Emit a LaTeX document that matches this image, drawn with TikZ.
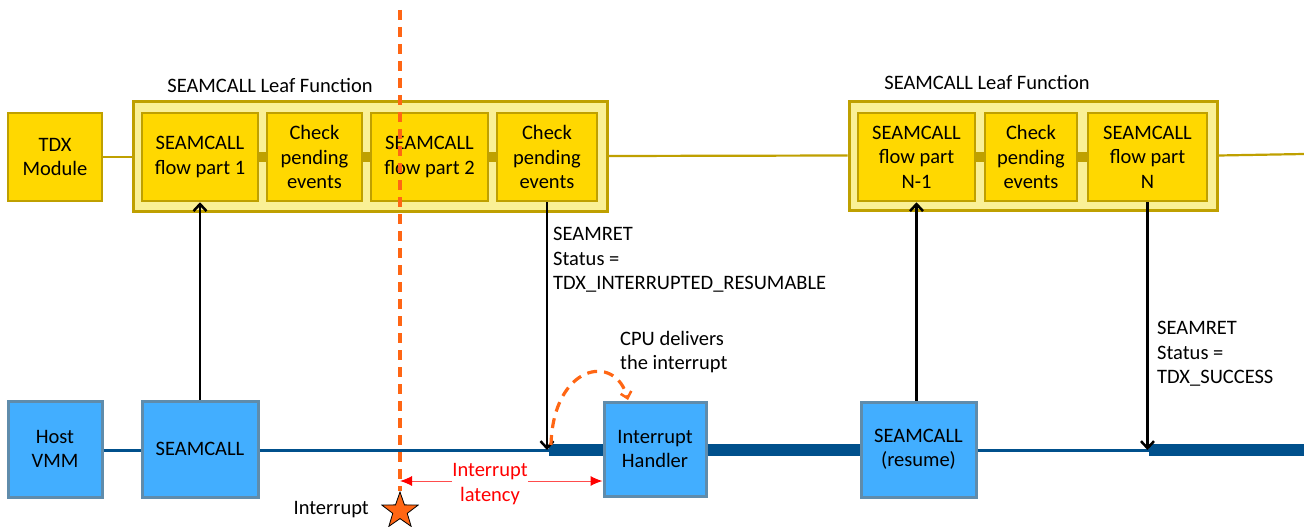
\documentclass[tikz,border=0pt]{standalone}
\usepackage{fontspec}
\setmainfont{Carlito}
\usetikzlibrary{arrows.meta,shapes.geometric}
\definecolor{goldfill}{RGB}{255,216,0}
\definecolor{goldedge}{RGB}{191,160,0}
\definecolor{leaffill}{RGB}{250,240,150}
\definecolor{bluefill}{RGB}{66,174,255}
\definecolor{blueedge}{RGB}{95,140,172}
\definecolor{darkblue}{RGB}{0,80,140}
\definecolor{intorange}{RGB}{255,102,20}
\definecolor{latred}{RGB}{255,0,0}
\tikzset{
  every node/.style={font=\fontsize{20.5}{24.5}\selectfont, inner sep=0pt},
  gbox/.style={draw=goldedge, fill=goldfill, line width=2.5pt, align=center, minimum height=88pt},
  leafbox/.style={draw=goldedge, fill=leaffill, line width=3pt},
  bbox/.style={draw=blueedge, fill=bluefill, line width=3pt, align=center},
  gline/.style={draw=goldedge, line width=2.2pt},
  gbar/.style={draw=goldedge, line width=10pt},
  bthin/.style={draw=darkblue, line width=3pt},
  bthick/.style={draw=darkblue, line width=12pt},
  blarrow/.style={draw=black, line width=2.7pt, -{Straight Barb[length=7pt,width=13pt,line width=2.5pt]}},
  odash/.style={draw=intorange, line width=3.2pt, dash pattern=on 10pt off 7pt},
  redarrow/.style={draw=latred!70, line width=1pt, -{Latex[length=12pt,width=10pt,color=latred]}},
  lbl/.style={align=left, anchor=north west},
}
\begin{document}
\begin{tikzpicture}[x=1pt,y=-1pt]
\path[use as bounding box] (0,0) rectangle (1304,527);

% ---- top row ----
\node[gbox, minimum width=94pt] (tdx) at (55,157) {\raisebox{-3pt}{\parbox{90pt}{\centering TDX\\Module}}};
\node[leafbox, minimum width=474pt, minimum height=110pt] (leaf1) at (370,156) {};
\node (t1) at (270,85) {SEAMCALL Leaf Function};
\node[gbox, minimum width=116pt] (a1) at (200,157) {\raisebox{-3pt}{\parbox{110pt}{\centering SEAMCALL\\flow part 1}}};
\node[gbox, minimum width=95pt] (a2) at (314.5,157) {Check\\pending\\events};
\node[gbox, minimum width=117pt] (a3) at (429.5,157) {\raisebox{-3pt}{\parbox{110pt}{\centering SEAMCALL\\flow part 2}}};
\node[gbox, minimum width=100pt] (a4) at (547,157) {Check\\pending\\events};

\node[leafbox, minimum width=368pt, minimum height=109pt] (leaf2) at (1033,155.5) {};
\node (t2) at (987,82) {SEAMCALL Leaf Function};
\node[gbox, minimum width=117pt] (b1) at (916.5,157) {SEAMCALL\\flow part\\N-1};
\node[gbox, minimum width=92pt] (b2) at (1031,157) {Check\\pending\\events};
\node[gbox, minimum width=119pt] (b3) at (1147.5,157) {SEAMCALL\\flow part\\N};

\coordinate (gend) at (1304,154);
\draw[gline] (tdx.east) -- (tdx.east -| leaf1.west);
\draw[gline] (leaf1.east) -- (leaf2.west);
\draw[gline] (leaf2.east) -- (gend);
\draw[gbar] (a1.east) -- (a2.west);
\draw[gbar] (a2.east) -- (a3.west);
\draw[gbar] (a3.east) -- (a4.west);
\draw[gbar] (b1.east) -- (b2.west);
\draw[gbar] (b2.east) -- (b3.west);

% ---- bottom row ----
\node[bbox, minimum width=94pt, minimum height=96pt] (host) at (55,449) {Host\\VMM};
\node[bbox, minimum width=116pt, minimum height=96pt] (sc) at (200,449) {SEAMCALL};
\node[bbox, minimum width=102pt, minimum height=94pt] (ih) at (655,449) {Interrupt\\Handler};
\node[bbox, minimum width=115pt, minimum height=95pt] (scr) at (918.5,449.5) {SEAMCALL\\(resume)};

\coordinate (ret1) at (549,450);
\coordinate (ret2) at (1149,450);
\coordinate (bend) at (1304,450);
\draw[bthin] (host.east |- 0,450) -- (sc.west |- 0,450);
\draw[bthin] (sc.east |- ret1) -- (ret1);
\draw[bthick] (ret1) -- (ret1 -| ih.west);
\draw[bthick] (ret1 -| ih.east) -- (ret1 -| scr.west);
\draw[bthin] (ret1 -| scr.east) -- (ret2);
\draw[bthick] (ret2) -- (bend);

% ---- vertical arrows ----
\draw[blarrow] (sc.north) -- (sc.north |- a1.south);
\draw[blarrow] (a4.south) -- (a4.south |- ret1);
\draw[blarrow] (scr.north -| b1.south) -- (b1.south);
\draw[blarrow] (b3.south) -- (b3.south |- ret2);

\node[lbl] (r1) at (553,227) {SEAMRET\\Status =\\TDX\_INTERRUPTED\_RESUMABLE};
\node[lbl] (r2) at (1157,321) {SEAMRET\\Status =\\TDX\_SUCCESS};

% ---- interrupt ----
\node[star, star points=5, star point ratio=2.5, minimum size=38pt, fill=intorange, draw=black, line width=0.8pt] (star) at (400,511) {};
\node[anchor=east] (intl) at (369,510) {Interrupt};
\coordinate (dtop) at (400,10);
\draw[odash] (dtop) -- (star.north);

\node[text=latred, align=center] (lat) at (490,484) {Interrupt\\latency};
\coordinate (lx) at (400,481);
\draw[redarrow] (lat.west |- lx) -- (lx);
\draw[redarrow] (lat.east |- lx) -- (lx -| ih.west);

\coordinate (cs) at (551,445);
\coordinate (ce) at (628,400);
\draw[odash, -{Straight Barb[length=6pt,width=11pt,line width=2.5pt]}] (cs) .. controls (553,365) and (615,352) .. (ce);
\node[lbl] (cpu) at (620,331) {CPU delivers\\the interrupt};
\end{tikzpicture}
\end{document}
